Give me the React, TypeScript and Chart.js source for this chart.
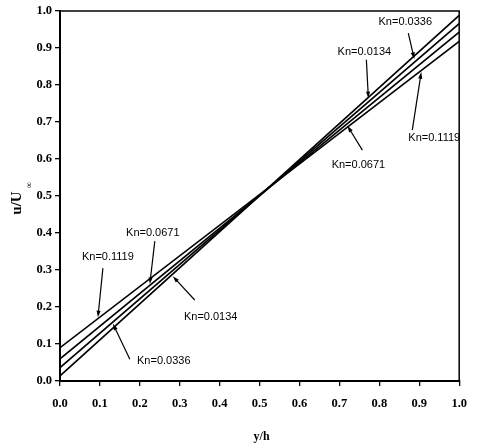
import React, { useEffect, useRef } from "react";
import { Chart, registerables } from "chart.js";

Chart.register(...registerables);

// Dimensionless wall-normal position y/h at the two plates
const yh = [0, 1];

// Velocity profiles u/U∞ at y/h = 0 and y/h = 1 for each Knudsen number
const seriesNames = ["Kn=0.0134", "Kn=0.0336", "Kn=0.0671", "Kn=0.1119"];
const uKn0134 = [0.014, 0.988];
const uKn0336 = [0.036, 0.966];
const uKn0671 = [0.06, 0.943];
const uKn1119 = [0.09, 0.918];
const seriesValues = [uKn0134, uKn0336, uKn0671, uKn1119];

// Axis ticks
const tickValues = [0, 0.1, 0.2, 0.3, 0.4, 0.5, 0.6, 0.7, 0.8, 0.9, 1.0];

// Callout labels (text anchor, arrow tail, arrow tip) in data units
const noteText = [
  "Kn=0.0336", "Kn=0.0134", "Kn=0.1119", "Kn=0.0671",
  "Kn=0.0671", "Kn=0.1119", "Kn=0.0134", "Kn=0.0336",
];
const noteX = [0.865, 0.7625, 0.9375, 0.7475, 0.2325, 0.12, 0.3775, 0.26];
const noteY = [0.97, 0.889, 0.657, 0.584, 0.4, 0.335, 0.173, 0.054];
const tailX = [0.8725, 0.7675, 0.8825, 0.7575, 0.2375, 0.1075, 0.3375, 0.175];
const tailY = [0.9405, 0.868, 0.678, 0.624, 0.378, 0.305, 0.219, 0.059];
const tipX = [0.8875, 0.7725, 0.905, 0.72, 0.225, 0.095, 0.2825, 0.1325];
const tipY = [0.87, 0.764, 0.835, 0.69, 0.262, 0.172, 0.283, 0.155];

const axisFont = { family: "'Liberation Serif', 'DejaVu Serif', serif", size: 12.5, weight: "bold" as const };

const decorPlugin = {
  id: "decor",
  afterDraw(chart: any) {
    const { ctx, chartArea, scales } = chart;
    const sx = scales.x;
    const sy = scales.y;
    ctx.save();

    // frame on the top and right sides
    ctx.strokeStyle = "#000";
    ctx.lineWidth = 1.5;
    ctx.beginPath();
    ctx.moveTo(chartArea.left, chartArea.top);
    ctx.lineTo(chartArea.right, chartArea.top);
    ctx.lineTo(chartArea.right, chartArea.bottom);
    ctx.stroke();

    // callouts with arrows
    ctx.font = "11px 'Liberation Sans', Arial, sans-serif";
    ctx.fillStyle = "#000";
    ctx.textAlign = "center";
    ctx.textBaseline = "middle";
    for (let i = 0; i < noteText.length; i++) {
      const tx = sx.getPixelForValue(noteX[i]);
      const ty = sy.getPixelForValue(noteY[i]);
      ctx.fillText(noteText[i], tx, ty);

      const ax = sx.getPixelForValue(tailX[i]);
      const ay = sy.getPixelForValue(tailY[i]);
      const bx = sx.getPixelForValue(tipX[i]);
      const by = sy.getPixelForValue(tipY[i]);
      const ang = Math.atan2(by - ay, bx - ax);
      const head = 7;
      const spread = 0.3;
      ctx.lineWidth = 1.2;
      ctx.beginPath();
      ctx.moveTo(ax, ay);
      ctx.lineTo(bx - Math.cos(ang) * head * 0.8, by - Math.sin(ang) * head * 0.8);
      ctx.stroke();
      ctx.beginPath();
      ctx.moveTo(bx, by);
      ctx.lineTo(bx - head * Math.cos(ang - spread), by - head * Math.sin(ang - spread));
      ctx.lineTo(bx - head * Math.cos(ang + spread), by - head * Math.sin(ang + spread));
      ctx.closePath();
      ctx.fill();
    }

    // axis titles
    ctx.font = "bold 12px 'Liberation Serif', serif";
    ctx.textAlign = "center";
    ctx.textBaseline = "middle";
    ctx.fillText("y/h", (chartArea.left + chartArea.right) / 2 + 2, 437);

    ctx.translate(17, 203);
    ctx.rotate(-Math.PI / 2);
    ctx.font = "bold 15px 'Liberation Serif', serif";
    const w = ctx.measureText("u/U").width;
    ctx.fillText("u/U", 0, 0);
    ctx.font = "9px 'Liberation Serif', serif";
    ctx.textAlign = "left";
    ctx.fillText("∞", w / 2 + 3, 13);

    ctx.restore();
  },
};

export default function App() {
  const canvasRef = useRef<HTMLCanvasElement | null>(null);

  useEffect(() => {
    if (!canvasRef.current) return;
    const datasets = seriesNames.map((name, k) => ({
      label: name,
      data: yh.map((x, i) => ({ x, y: seriesValues[k][i] })),
      showLine: true,
      borderColor: "#000",
      borderWidth: 1.7,
      pointRadius: 0,
      fill: false,
    }));

    const tickCb = (v: any) => Number(v).toFixed(1);

    const chart = new Chart(canvasRef.current, {
      type: "scatter",
      data: { datasets },
      plugins: [decorPlugin],
      options: {
        animation: false,
        responsive: false,
        devicePixelRatio: 1,
        layout: { padding: { top: 11, right: 17, left: 0, bottom: 0 } },
        plugins: { legend: { display: false }, tooltip: { enabled: false } },
        scales: {
          x: {
            type: "linear",
            min: 0,
            max: 1,
            afterBuildTicks: (s: any) => { s.ticks = tickValues.map((v) => ({ value: v })); },
            afterFit: (s: any) => { s.height = 63; },
            ticks: { callback: tickCb, font: axisFont, color: "#000", padding: 10, autoSkip: false, maxRotation: 0 },
            grid: { drawOnChartArea: false, drawTicks: true, tickLength: 5, color: "#000", lineWidth: 1.3 },
            border: { color: "#000", width: 2 },
          },
          y: {
            type: "linear",
            min: 0,
            max: 1,
            afterBuildTicks: (s: any) => { s.ticks = tickValues.map((v) => ({ value: v })); },
            afterFit: (s: any) => { s.width = 60; },
            ticks: { callback: tickCb, font: axisFont, color: "#000", padding: 3, autoSkip: false },
            grid: { drawOnChartArea: false, drawTicks: true, tickLength: 5, color: "#000", lineWidth: 1.3 },
            border: { color: "#000", width: 2 },
          },
        },
      },
    } as any);
    return () => chart.destroy();
  }, []);

  return (
    <div style={{ position: "absolute", left: 0, top: 0, width: 477, height: 444, background: "#fff" }}>
      <canvas ref={canvasRef} width={477} height={444} style={{ display: "block" }} />
    </div>
  );
}
